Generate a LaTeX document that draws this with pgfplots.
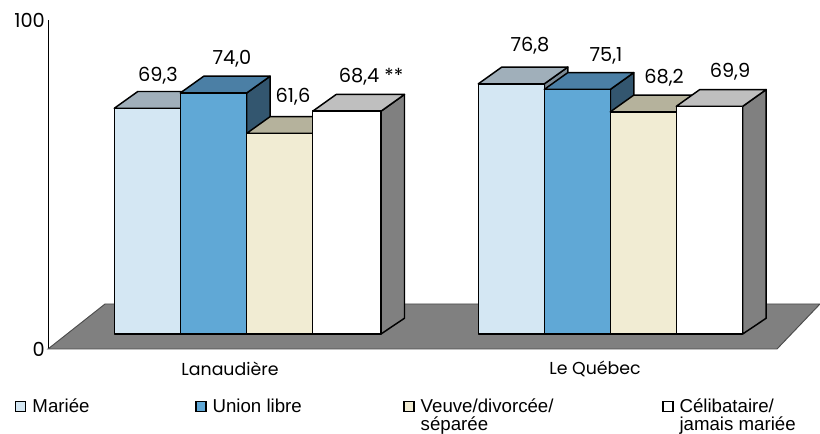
\documentclass[border=0pt]{standalone}
\usepackage{fontspec}
\setmainfont{Poppins}
\newfontfamily\legfont{Liberation Sans}
\usepackage{pgfplots}
\pgfplotsset{compat=1.18}

\definecolor{cMar}{HTML}{D4E7F3}
\definecolor{cMarT}{HTML}{A0AFBA}
\definecolor{cMarS}{HTML}{7C8B96}
\definecolor{cUni}{HTML}{60A8D6}
\definecolor{cUniT}{HTML}{4B7FA5}
\definecolor{cUniS}{HTML}{33566F}
\definecolor{cVeu}{HTML}{F1ECD3}
\definecolor{cVeuT}{HTML}{B5B29C}
\definecolor{cVeuS}{HTML}{8F8D7D}
\definecolor{cCel}{HTML}{FFFFFF}
\definecolor{cCelT}{HTML}{BFBFBF}
\definecolor{cCelS}{HTML}{808080}

% axis x is in image pixels, axis y in percent; bars stand 15 px up on the floor
% args: left x, right x, value, colour prefix
\newcommand{\threedbar}[4]{%
  \pgfmathsetmacro\yb{4.56}%
  \pgfmathsetmacro\yt{0.99*#3+4.56}%
  \pgfmathsetmacro\yy{\yt+5.1}%
  \pgfmathsetmacro\ybb{\yb+4.8}%
  \pgfmathsetmacro\xl{#1+23.5}%
  \pgfmathsetmacro\xr{#2+23.5}%
  \edef\temp{%
    \noexpand\addplot[forget plot,fill=#4S,draw=black,line width=1.1pt,line join=round] coordinates {(#2,\yb)(\xr,\ybb)(\xr,\yy)(#2,\yt)} -- cycle;
    \noexpand\addplot[forget plot,fill=#4T,draw=black,line width=1.1pt,line join=round] coordinates {(#1,\yt)(\xl,\yy)(\xr,\yy)(#2,\yt)} -- cycle;
    \noexpand\addplot[forget plot,fill=#4,draw=black,line width=1.1pt,line join=round] coordinates {(#1,\yb)(#1,\yt)(#2,\yt)(#2,\yb)} -- cycle;
  }\temp
}
% value label at image pixel position
\newcommand{\vlabel}[3]{%
  \pgfmathsetmacro\ly{(349-#2)/3.29}%
  \edef\temp{\noexpand\node[font=\noexpand\fontsize{14.5pt}{16pt}\noexpand\selectfont,anchor=center] at (axis cs:#1,\ly) {#3};}\temp
}
\newcommand{\legtext}[2]{\parbox[t]{#1}{\legfont\fontsize{14pt}{13.5pt}\selectfont #2}}

\begin{document}
\begin{tikzpicture}
\useasboundingbox (0,0) rectangle (615pt,325.5pt);
\begin{axis}[
  at={(36pt,63.75pt)}, anchor=south west,
  scale only axis, width=579pt, height=246.75pt,
  xmin=48, xmax=820, ymin=0, ymax=100,
  clip=false,
  axis x line=none, axis y line=left,
  axis line style={-, black, line width=0.6pt},
  ytick={0,100}, major tick length=0pt,
  yticklabel style={font=\fontsize{14.5pt}{16pt}\selectfont, xshift=1.2pt},
  /pgf/number format/assume math mode=true,
  legend image code/.code={\draw[#1,draw=black,line width=1.1pt] (0pt,-3.6pt) rectangle (7.5pt,3.9pt);},
  legend style={
    at={(axis cs:15,-14.4)}, anchor=north west, draw=none, fill=none, inner sep=0pt, outer sep=0pt,
    legend columns=4, legend cell align=left,
    /tikz/every even column/.style={column sep=1pt},
    /tikz/every odd column/.style={column sep=2.5pt},
  },
]
  % floor
  \addplot[forget plot,fill=cCelS,draw=black!70,line width=0.7pt] coordinates {(48,0)(777,0)(820,13.68)(105,13.68)} -- cycle;

  % Lanaudière
  \threedbar{114.3}{180.3}{69.3}{cMar}
  \threedbar{180.3}{246.7}{74.0}{cUni}
  \threedbar{246.7}{312.7}{61.6}{cVeu}
  \threedbar{312.7}{381}{68.4}{cCel}
  % Le Québec
  \threedbar{478.3}{544.3}{76.8}{cMar}
  \threedbar{544.3}{610.3}{75.1}{cUni}
  \threedbar{610.3}{676.3}{68.2}{cVeu}
  \threedbar{676.3}{742.7}{69.9}{cCel}

  \vlabel{158}{76}{69,3}
  \vlabel{232}{59}{74,0}
  \vlabel{293}{97}{61,6}
  \vlabel{371}{77}{68,4 **}
  \vlabel{530}{46}{76,8}
  \vlabel{606}{56}{75,1}
  \vlabel{664}{78}{68,2}
  \vlabel{730}{72}{69,9}

  \node[font=\fontsize{13pt}{15pt}\selectfont] at (axis cs:230,-5.9) {Lanaudière};
  \node[font=\fontsize{13pt}{15pt}\selectfont] at (axis cs:595,-5.9) {Le Québec};

  \addlegendimage{fill=cMar}
  \addlegendentry{\legtext{119pt}{Mariée}}
  \addlegendimage{fill=cUni}
  \addlegendentry{\legtext{140pt}{Union libre}}
  \addlegendimage{fill=cVeu}
  \addlegendentry{\legtext{178pt}{Veuve/divorcée/\\séparée}}
  \addlegendimage{fill=cCel}
  \addlegendentry{\legtext{100pt}{Célibataire/\\jamais mariée}}
\end{axis}
\end{tikzpicture}
\end{document}
